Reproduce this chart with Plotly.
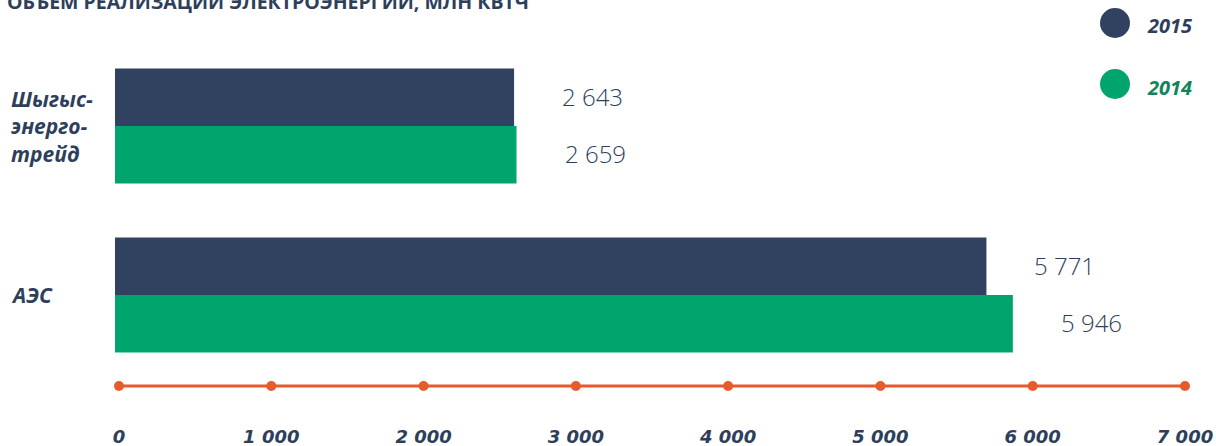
import plotly.graph_objects as go

# ---- data ----
categories = ["АЭС", "Шыгысэнерготрейд"]
category_labels = ["АЭС", "Шыгыс-<br>энерго-<br>трейд"]
series_names = ["2014", "2015"]
values_2014 = [5946, 2659]
values_2015 = [5771, 2643]
axis_ticks = [0, 1000, 2000, 3000, 4000, 5000, 6000, 7000]
title_text = "ОБЪЕМ РЕАЛИЗАЦИИ ЭЛЕКТРОЭНЕРГИИ, МЛН КВТЧ"

W, H = 1216, 446
NAVY = "#30425f"
GREEN = "#00a56e"
ORANGE = "#e65a2e"
TEXT = "#2e3f5c"
LEGEND_GREEN = "#11845a"
FONT = "Open Sans"

series_values = [values_2014, values_2015]
series_colors = [GREEN, NAVY]
series_text_colors = [LEGEND_GREEN, TEXT]

fig = go.Figure()
for name, vals, col in zip(series_names, series_values, series_colors):
    fig.add_trace(go.Bar(
        x=vals, y=categories, orientation="h", name=name,
        marker=dict(color=col, line=dict(width=0)),
        showlegend=False, hoverinfo="skip",
        xaxis="x", yaxis="y",
    ))

# orange scale line with dots
fig.add_trace(go.Scatter(
    x=axis_ticks, y=[0] * len(axis_ticks), mode="lines+markers",
    line=dict(color=ORANGE, width=3),
    marker=dict(color=ORANGE, size=10),
    showlegend=False, hoverinfo="skip",
    xaxis="x2", yaxis="y2",
))

# bar axis: 0 -> 115px, 7000 -> 1172px
bx0, bscale = 115, (1172 - 115) / 7000
# scale axis: 0 -> 119px, 7000 -> 1185px
sx0, sscale = 119, (1185 - 119) / 7000
# category centres: index 1 -> 126px, index 0 -> 295px
cy1, cstep = 126, 169

annotations = []
offsets = [-0.17, 0.17]
for si, vals in enumerate(series_values):
    for ci, v in enumerate(vals):
        annotations.append(dict(
            x=v, y=ci + offsets[si], xref="x", yref="y",
            text=f"{v:,}".replace(",", " "), showarrow=False,
            xanchor="left", yanchor="middle", xshift=46, yshift=1,
            font=dict(family=FONT, size=24, color=TEXT, weight=300),
        ))
for ci, lab in enumerate(category_labels):
    annotations.append(dict(
        x=9 / W, y=ci, xref="paper", yref="y", text=lab, showarrow=False,
        xanchor="left", yanchor="middle", align="left",
        font=dict(family=FONT, size=21, color=TEXT, weight=700, style="italic"),
    ))
# legend (drawn)
shapes = []
leg_y = [84, 23]
for name, col, tcol, ly in zip(series_names, series_colors, series_text_colors, leg_y):
    shapes.append(dict(type="circle", xref="paper", yref="paper",
                       x0=(1115 - 15) / W, x1=(1115 + 15) / W,
                       y0=1 - (ly + 15) / H, y1=1 - (ly - 15) / H,
                       fillcolor=col, line=dict(width=0)))
    annotations.append(dict(
        x=1145 / W, y=1 - (ly + 3) / H, xref="paper", yref="paper", text=name,
        showarrow=False, xanchor="left", yanchor="middle",
        font=dict(family=FONT, size=20, color=tcol, weight=700, style="italic"),
    ))
# title, cut at top
annotations.append(dict(
    x=5 / W, y=1, xref="paper", yref="paper", text=title_text, showarrow=False,
    xanchor="left", yanchor="middle", yshift=-1,
    font=dict(family=FONT, size=19.5, color=TEXT, weight=700),
))

fig.update_layout(
    width=W, height=H,
    margin=dict(l=0, r=0, t=0, b=0),
    paper_bgcolor="white", plot_bgcolor="white",
    barmode="group", bargap=0.32, bargroupgap=0,
    separators=". ",
    xaxis=dict(range=[-bx0 / bscale, (W - bx0) / bscale], visible=False,
               domain=[0, 1]),
    xaxis2=dict(range=[-sx0 / sscale, (W - sx0) / sscale], overlaying="x",
                anchor="free", position=1 - 424 / H, side="bottom",
                tickvals=axis_ticks, tickformat=",", ticks="",
                showgrid=False, zeroline=False, showline=False,
                tickfont=dict(family="DejaVu Sans", size=18, color=TEXT,
                              weight=700, style="italic")),
    yaxis=dict(type="category", categoryorder="array", categoryarray=categories,
               range=[-(H - cy1 - cstep) / cstep, 1 + cy1 / cstep],
               visible=False, domain=[0, 1]),
    yaxis2=dict(range=[-(H - 386), 386], overlaying="y", visible=False),
    annotations=annotations, shapes=shapes,
)

fig.write_html(
    "out.html",
    config={"displayModeBar": False},
    post_script="document.body.style.margin='0';document.body.style.overflow='hidden';",
)
